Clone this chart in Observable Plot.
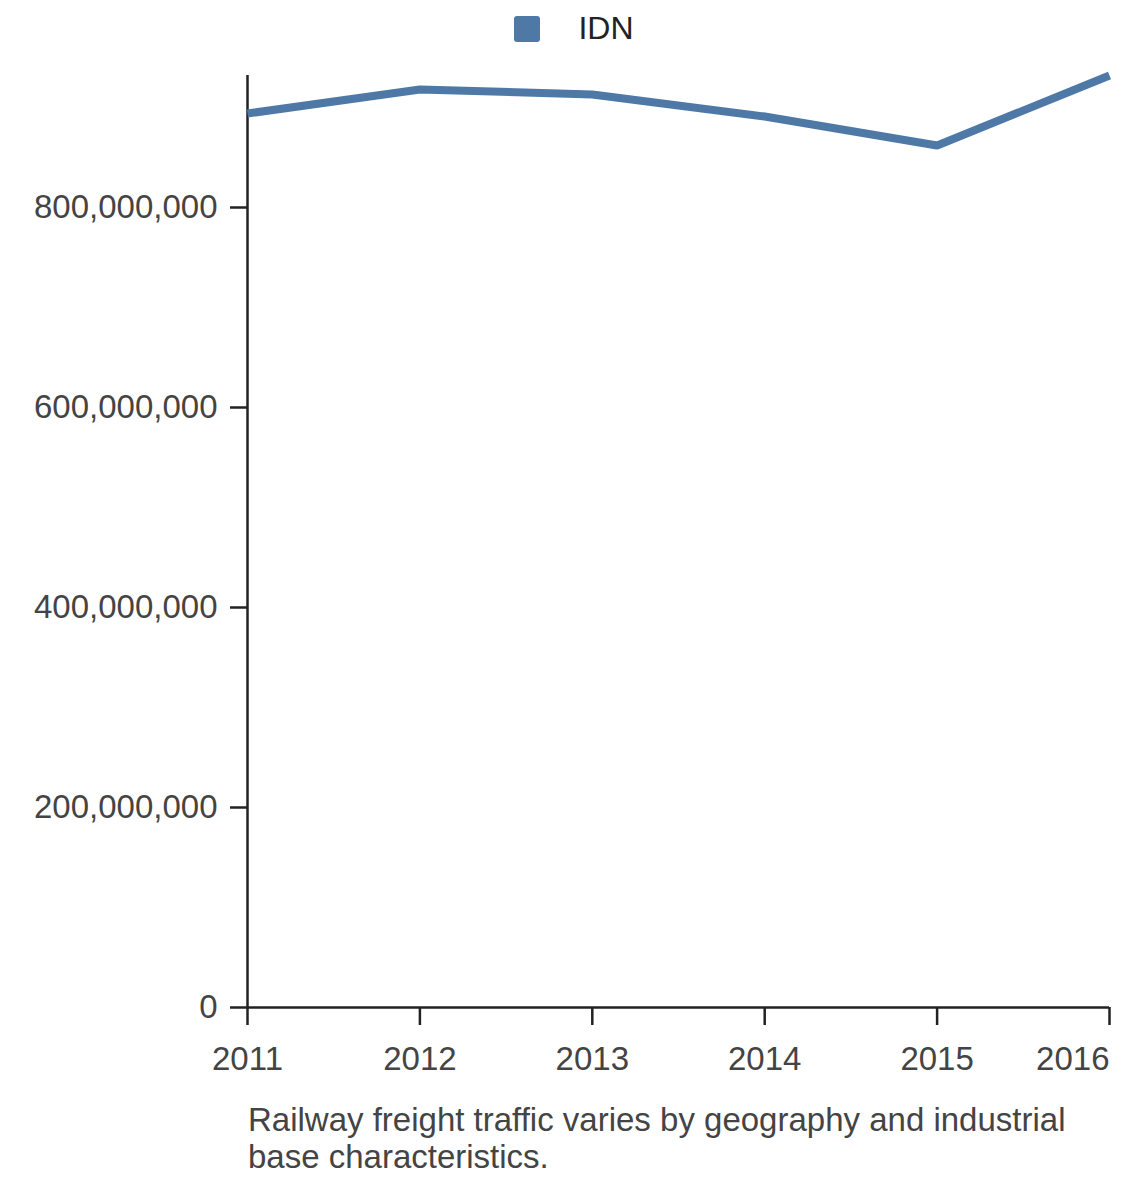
<!DOCTYPE html>
<html>
<head>
<meta charset="utf-8">
<script src="https://cdn.jsdelivr.net/npm/d3@7"></script>
<script src="https://cdn.jsdelivr.net/npm/@observablehq/plot@0.6"></script>
<style>
  html, body { margin: 0; padding: 0; background: #fff; }
  body { width: 1140px; font-family: "Liberation Sans", Arial, sans-serif; }
  #legend { height: 60px; display: flex; justify-content: center; align-items: center; padding-left: 8px; box-sizing: border-box; }
  #legend .sw { width: 26px; height: 26px; border-radius: 3px; background: #4e79a7; margin-right: 38px; margin-top: -3px; }
  #legend .lb { font-size: 32px; color: #222; margin-top: -4px; }
  #caption { margin: 11px 0 0 248px; font-size: 33px; line-height: 37px; color: #444; width: 850px; }
  svg { display: block; }
</style>
</head>
<body>
<div id="legend"></div>
<div id="chart"></div>
<div id="caption"></div>
<script>
const seriesName = "IDN";
const years = [2011, 2012, 2013, 2014, 2015, 2016];
const values = [894e6, 918e6, 913e6, 891e6, 862e6, 932e6];
const yTicks = [0, 200e6, 400e6, 600e6, 800e6];
const captionText = "Railway freight traffic varies by geography and industrial base characteristics.";

const data = years.map((y, i) => ({year: y, value: values[i]}));
const color = "#4e79a7";
const axisColor = "#222";
const textColor = "#444";

document.getElementById("legend").innerHTML =
  `<div class="sw"></div><div class="lb">${seriesName}</div>`;
document.getElementById("caption").textContent = captionText;

const chart = Plot.plot({
  width: 1140,
  height: 1030,
  marginTop: 15,
  marginLeft: 247,
  marginRight: 31,
  marginBottom: 83,
  style: {fontFamily: '"Liberation Sans", Arial, sans-serif', fontSize: "33px", color: textColor, background: "#fff"},
  x: {domain: [years[0], years[years.length - 1]], type: "linear"},
  y: {domain: [0, d3.max(values)]},
  marks: [
    Plot.axisY({ticks: yTicks, tickFormat: d3.format(","), tickSize: 17, tickPadding: 13, stroke: axisColor, strokeWidth: 2.5, fill: textColor, fontSize: 33, label: null}),
    Plot.axisX({ticks: years.slice(0, -1), tickFormat: d3.format("d"), tickSize: 18, tickPadding: 21, stroke: axisColor, strokeWidth: 2.5, fill: textColor, fontSize: 33, label: null}),
    Plot.axisX({ticks: years.slice(-1), tickFormat: d3.format("d"), tickSize: 18, tickPadding: 21, stroke: axisColor, strokeWidth: 2.5, fill: textColor, fontSize: 33, textAnchor: "end", label: null}),
    Plot.ruleY([0], {stroke: axisColor, strokeWidth: 2.5}),
    Plot.ruleX([years[0]], {stroke: axisColor, strokeWidth: 2.5}),
    Plot.line(data, {x: "year", y: "value", stroke: color, strokeWidth: 8, strokeLinecap: "butt", strokeLinejoin: "miter"})
  ]
});
document.getElementById("chart").appendChild(chart);
</script>
</body>
</html>
